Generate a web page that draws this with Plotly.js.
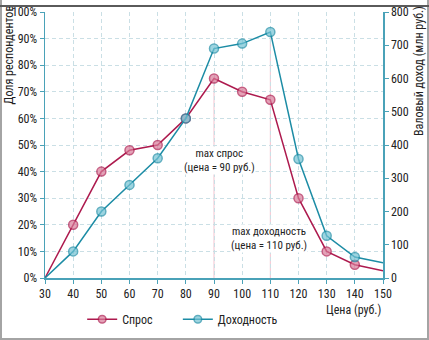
<!DOCTYPE html>
<html>
<head>
<meta charset="utf-8">
<script src="https://cdn.plot.ly/plotly-3.0.1.min.js"></script>
<style>
  html, body { margin: 0; padding: 0; background: #fff; }
  #wrap { position: relative; width: 429px; height: 340px; overflow: hidden; }
  #chart { position: absolute; left: 0; top: 0; width: 429px; height: 340px; }
  .frame { position: absolute; pointer-events: none; }
</style>
</head>
<body>
<div id="wrap">
  <div id="chart"></div>
  <div class="frame" style="left:0;top:0;width:2px;height:340px;background:#a4a4a4;"></div>
  <div class="frame" style="right:0;top:0;width:2px;height:340px;background:#a4a4a4;"></div>
  <div class="frame" style="left:0;bottom:0;width:429px;height:2px;background:#a4a4a4;"></div>
  <div class="frame" style="left:0;top:5px;width:429px;height:2px;background:#5a5a5a;"></div>
</div>
<script>
// Data
var prices = [30, 40, 50, 60, 70, 80, 90, 100, 110, 120, 130, 140, 150];
var demandShare = [0, 0.20, 0.40, 0.48, 0.50, 0.60, 0.75, 0.70, 0.67, 0.30, 0.10, 0.05, 0.027];
var revenue = [0, 80, 200, 280, 360, 480, 690, 705, 740, 358, 127, 63, 46];
var seriesNames = ['Спрос', 'Доходность'];
var xTickVals = [30, 40, 50, 60, 70, 80, 90, 100, 110, 120, 130, 140, 150];

var FONT = '"Roboto Condensed", "Liberation Sans Narrow", sans-serif';
var C_DEM = '#ad1a4e', C_DEM_F = '#d97b99';
var C_REV = '#1c8ca5', C_REV_F = '#74c3d4';
var C_AXIS = '#4aa2b8', C_GRID = '#cadfe5';

// hide markers at the range ends
var sizes = prices.map(function (p, i) { return (i === 0 || i === prices.length - 1) ? 0 : 9; });

var iMaxD = demandShare.indexOf(Math.max.apply(null, demandShare));
var iMaxR = revenue.indexOf(Math.max.apply(null, revenue));

var traces = [
  {
    x: prices, y: demandShare, name: seriesNames[0], type: 'scatter', mode: 'lines+markers',
    line: { color: C_DEM, width: 1.5 },
    marker: { size: sizes, color: C_DEM_F, line: { color: C_DEM, width: 1.5 } },
    cliponaxis: false, hoverinfo: 'skip', legend: 'legend'
  },
  {
    x: prices, y: revenue, name: seriesNames[1], type: 'scatter', mode: 'lines+markers', yaxis: 'y2',
    line: { color: C_REV, width: 1.5 },
    marker: { size: sizes, color: C_REV_F, line: { color: C_REV, width: 1.5 } },
    cliponaxis: false, hoverinfo: 'skip', legend: 'legend2'
  }
];

var legFont = { family: FONT, size: 12, color: '#222' };

var layout = {
  width: 429, height: 340,
  margin: { l: 45, r: 46, t: 12, b: 62, pad: 0, autoexpand: false },
  paper_bgcolor: '#fff', plot_bgcolor: '#fff',
  font: { family: FONT, size: 12, color: '#222' },
  showlegend: true,
  legend: {
    orientation: 'h', x: 0.11, xanchor: 'left', y: -0.155, yanchor: 'middle',
    font: legFont, bgcolor: 'rgba(0,0,0,0)'
  },
  legend2: {
    orientation: 'h', x: 0.393, xanchor: 'left', y: -0.155, yanchor: 'middle',
    font: legFont, bgcolor: 'rgba(0,0,0,0)'
  },
  xaxis: {
    range: [30, 150], tickvals: xTickVals, ticktext: xTickVals.map(String),
    showline: true, linecolor: C_AXIS, linewidth: 1.5,
    ticks: 'outside', ticklen: 4, tickcolor: C_AXIS,
    showgrid: true, gridcolor: C_GRID, griddash: '4px,3px', gridwidth: 1,
    zeroline: false, tickfont: { family: FONT, size: 12, color: '#222' }
  },
  yaxis: {
    range: [0, 1], dtick: 0.1, tickformat: '.0%',
    showline: true, linecolor: C_AXIS, linewidth: 1.5,
    ticks: 'outside', ticklen: 4, tickcolor: C_AXIS,
    showgrid: true, gridcolor: C_GRID, griddash: '4px,3px', gridwidth: 1,
    zeroline: false, tickfont: { family: FONT, size: 12, color: '#222' }
  },
  yaxis2: {
    range: [0, 800], dtick: 100, overlaying: 'y', side: 'right',
    showline: true, linecolor: C_AXIS, linewidth: 1.5,
    ticks: 'outside', ticklen: 4, tickcolor: C_AXIS,
    showgrid: false, zeroline: false, tickfont: { family: FONT, size: 12, color: '#222' }
  },
  shapes: [
    { type: 'line', xref: 'x', yref: 'y', x0: prices[iMaxD], x1: prices[iMaxD], y0: 0, y1: demandShare[iMaxD],
      line: { color: '#f1c3cf', width: 1 }, layer: 'below' },
    { type: 'line', xref: 'x', yref: 'y2', x0: prices[iMaxR], x1: prices[iMaxR], y0: 0, y1: revenue[iMaxR],
      line: { color: '#f1c3cf', width: 1 }, layer: 'below' }
  ],
  annotations: [
    { text: 'max спрос<br>(цена = ' + prices[iMaxD] + ' руб.)', xref: 'x', yref: 'y',
      x: prices[iMaxD] + 2, y: 0.44, showarrow: false, bgcolor: '#fff', borderpad: 0,
      font: { family: FONT, size: 11, color: '#222' }, align: 'center' },
    { text: 'max доходность<br>(цена = ' + prices[iMaxR] + ' руб.)', xref: 'x', yref: 'y',
      x: prices[iMaxR] - 0.5, y: 0.147, showarrow: false, bgcolor: '#fff', borderpad: 0,
      font: { family: FONT, size: 11, color: '#222' }, align: 'center' },
    { text: 'Доля респондентов', xref: 'paper', yref: 'paper', x: -37 / 338, y: 1 + 8 / 266,
      xanchor: 'center', yanchor: 'top', textangle: -90, showarrow: false,
      font: { family: FONT, size: 12, color: '#222' } },
    { text: 'Валовый доход (млн руб.)', xref: 'paper', yref: 'paper', x: 1 + 36 / 338, y: 1 + 8 / 266,
      xanchor: 'center', yanchor: 'top', textangle: -90, showarrow: false,
      font: { family: FONT, size: 12, color: '#222' } },
    { text: 'Цена (руб.)', xref: 'paper', yref: 'paper', x: 1, y: -32 / 266,
      xanchor: 'right', yanchor: 'middle', showarrow: false,
      font: { family: FONT, size: 12, color: '#222' } }
  ]
};

Plotly.newPlot('chart', traces, layout, { displayModeBar: false, staticPlot: true });
</script>
</body>
</html>
